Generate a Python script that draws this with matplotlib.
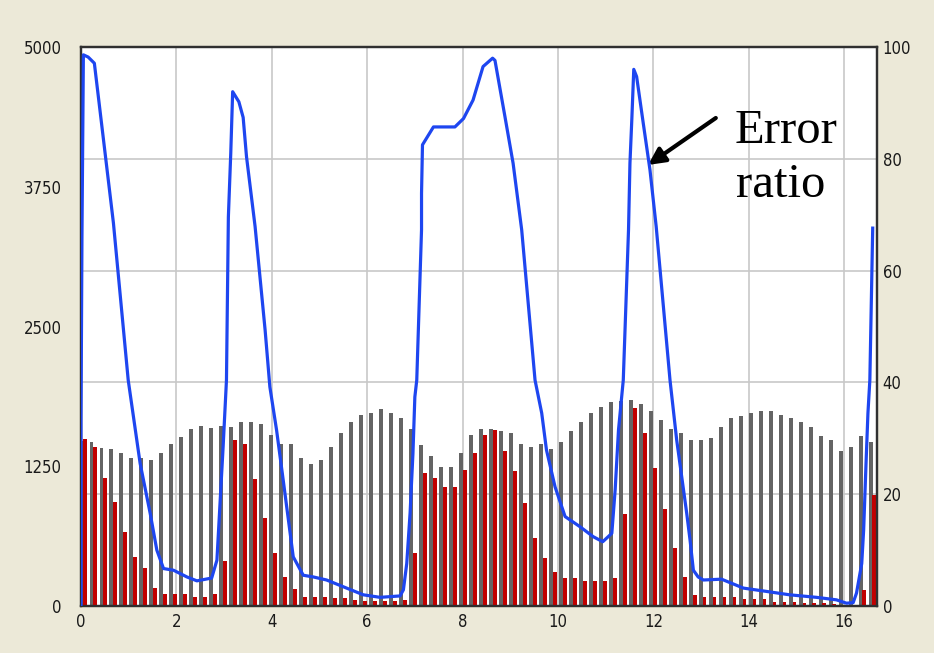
import matplotlib
matplotlib.use("Agg")
import matplotlib.pyplot as plt
import numpy as np

# ---- data ----
step = 0.2095
gray_values = [1480, 1464, 1410, 1404, 1366, 1327, 1321, 1306, 1371, 1449,
               1509, 1583, 1610, 1589, 1610, 1604, 1643, 1643, 1631, 1530,
               1446, 1446, 1327, 1267, 1306, 1425, 1545, 1643, 1708, 1729,
               1759, 1723, 1684, 1580, 1440, 1342, 1246, 1246, 1366, 1530,
               1583, 1583, 1568, 1545, 1446, 1425, 1446, 1404, 1464, 1565,
               1643, 1723, 1783, 1822, 1835, 1843, 1807, 1744, 1664, 1583,
               1545, 1485, 1485, 1506, 1604, 1684, 1702, 1723, 1744, 1744,
               1708, 1684, 1643, 1604, 1523, 1485, 1386, 1425, 1523, 1464]
red_values = [1494, 1425, 1148, 927, 665, 441, 343, 158, 104, 104,
              104, 84, 84, 104, 405, 1485, 1449, 1133, 784, 471,
              262, 149, 84, 84, 78, 69, 69, 54, 49, 49,
              49, 49, 54, 471, 1187, 1148, 1067, 1067, 1216, 1371,
              1530, 1574, 1389, 1211, 924, 605, 426, 307, 247, 247,
              227, 227, 227, 247, 820, 1768, 1545, 1231, 865, 522,
              262, 100, 82, 80, 80, 78, 65, 62, 60, 40,
              40, 40, 30, 25, 25, 20, 10, 10, 143, 993]
ratio_x = [0.00, 0.00, 0.02, 0.05, 0.15, 0.28, 0.68, 0.99, 1.24, 1.45,
           1.59, 1.73, 1.94, 2.22, 2.43, 2.74, 2.85, 2.98, 3.05, 3.09,
           3.14, 3.18, 3.31, 3.40, 3.47, 3.65, 3.86, 3.96, 4.10, 4.24,
           4.45, 4.66, 4.87, 5.15, 5.57, 5.92, 6.27, 6.69, 6.76, 6.83,
           6.90, 6.96, 7.00, 7.04, 7.14, 7.14, 7.16, 7.39, 7.84, 8.02,
           8.22, 8.43, 8.63, 8.68, 8.89, 9.06, 9.24, 9.52, 9.66, 9.76,
           9.94, 10.15, 10.46, 10.74, 10.94, 11.13, 11.20, 11.27, 11.37, 11.48,
           11.51, 11.55, 11.59, 11.65, 11.79, 11.93, 12.06, 12.35, 12.49, 12.70,
           12.77, 12.84, 12.94, 13.05, 13.43, 13.89, 14.38, 14.86, 15.42, 15.84,
           16.05, 16.19, 16.26, 16.37, 16.41, 16.46, 16.50, 16.54, 16.60]
ratio_y = [0.0, 33.0, 66.0, 98.6, 98.2, 97.1, 68.5, 40.4, 25.5, 16.6,
           10.0, 6.7, 6.4, 5.2, 4.5, 5.0, 8.2, 28.5, 40.4, 69.6,
           81.0, 92.0, 90.2, 87.4, 80.4, 67.9, 49.4, 39.2, 31.5, 22.5,
           8.8, 5.5, 5.2, 4.65, 3.2, 2.0, 1.55, 1.8, 2.9, 7.6,
           16.6, 27.3, 37.4, 40.4, 67.3, 73.8, 82.5, 85.7, 85.7, 87.2,
           90.5, 96.5, 98.0, 97.6, 87.5, 79.2, 67.3, 40.4, 34.5, 27.9,
           21.3, 16.0, 14.2, 12.4, 11.5, 13.0, 20.8, 31.5, 40.4, 67.3,
           79.2, 87.2, 96.0, 94.7, 86.3, 78.0, 67.9, 40.4, 29.7, 16.6,
           11.8, 6.4, 5.2, 4.65, 4.8, 3.2, 2.6, 2.0, 1.55, 1.1,
           0.5, 0.6, 2.3, 7.6, 13.6, 25.5, 34.5, 40.4, 67.6]
x_ticks = [0, 2, 4, 6, 8, 10, 12, 14, 16]
left_ticks = [0, 1250, 2500, 3750, 5000]
right_ticks = [0, 20, 40, 60, 80, 100]
annotation_lines = ["Error", "ratio"]

# ---- figure ----
bg = "#ECE9D8"
fig = plt.figure(figsize=(9.34, 6.53), dpi=100, facecolor=bg)
ax = fig.add_axes([81/934, 1-606/653, (877-81)/934, (606-47)/653])
ax.set_facecolor("white")

n = len(gray_values)
idx = np.arange(n)
gx = 0.01 + idx * step
rx = 0.085 + idx * step
ax.bar(gx, gray_values, width=0.082, color="#646464", zorder=2, linewidth=0)
ax.bar(rx, red_values, width=0.082, color="#C00000", zorder=3, linewidth=0)

ax.set_xlim(0, 16.69)
ax.set_ylim(0, 5000)

# grid (vertical at x ticks, horizontal at right axis ticks)
for xv in x_ticks[1:]:
    ax.axvline(xv, color="#C8C8C8", lw=1.2, zorder=0)
for rv in right_ticks[1:-1]:
    ax.axhline(rv * 50, color="#C8C8C8", lw=1.2, zorder=0)

tick_font = dict(family=["DejaVu Sans"], stretch="condensed", size=12)
ax.set_xticks(x_ticks)
ax.set_xticklabels([str(v) for v in x_ticks], **tick_font)
ax.set_yticks(left_ticks)
ax.set_yticklabels([str(v) for v in left_ticks], **tick_font)
ax.tick_params(axis="x", length=0, pad=5, colors="#1a1a1a")
ax.tick_params(axis="y", length=0, pad=14, colors="#1a1a1a")

ax2 = ax.twinx()
ax2.set_ylim(0, 100)
ax2.plot(ratio_x, ratio_y, color="#1E46F0", lw=2.3, zorder=5, solid_joinstyle="round")
ax2.set_yticks(right_ticks)
ax2.set_yticklabels([str(v) for v in right_ticks], **tick_font)
ax2.tick_params(axis="y", length=0, pad=4, colors="#1a1a1a")

for a in (ax, ax2):
    for s in a.spines.values():
        s.set_color("#303030")
        s.set_linewidth(1.6)

ax2.annotate("", xy=(11.89, 78.9), xytext=(13.31, 87.3),
             arrowprops=dict(arrowstyle="-|>,head_length=1.0,head_width=0.5",
                             color="black", lw=3, shrinkA=0, shrinkB=0))
serif = ["Liberation Serif", "DejaVu Serif"]
ax2.text(13.71, 82.8, annotation_lines[0], ha="left", va="baseline",
         family=serif, fontsize=35, color="black")
ax2.text(13.74, 73.2, annotation_lines[1], ha="left", va="baseline",
         family=serif, fontsize=35, color="black")

fig.savefig("out.png", dpi=100, facecolor=bg)
